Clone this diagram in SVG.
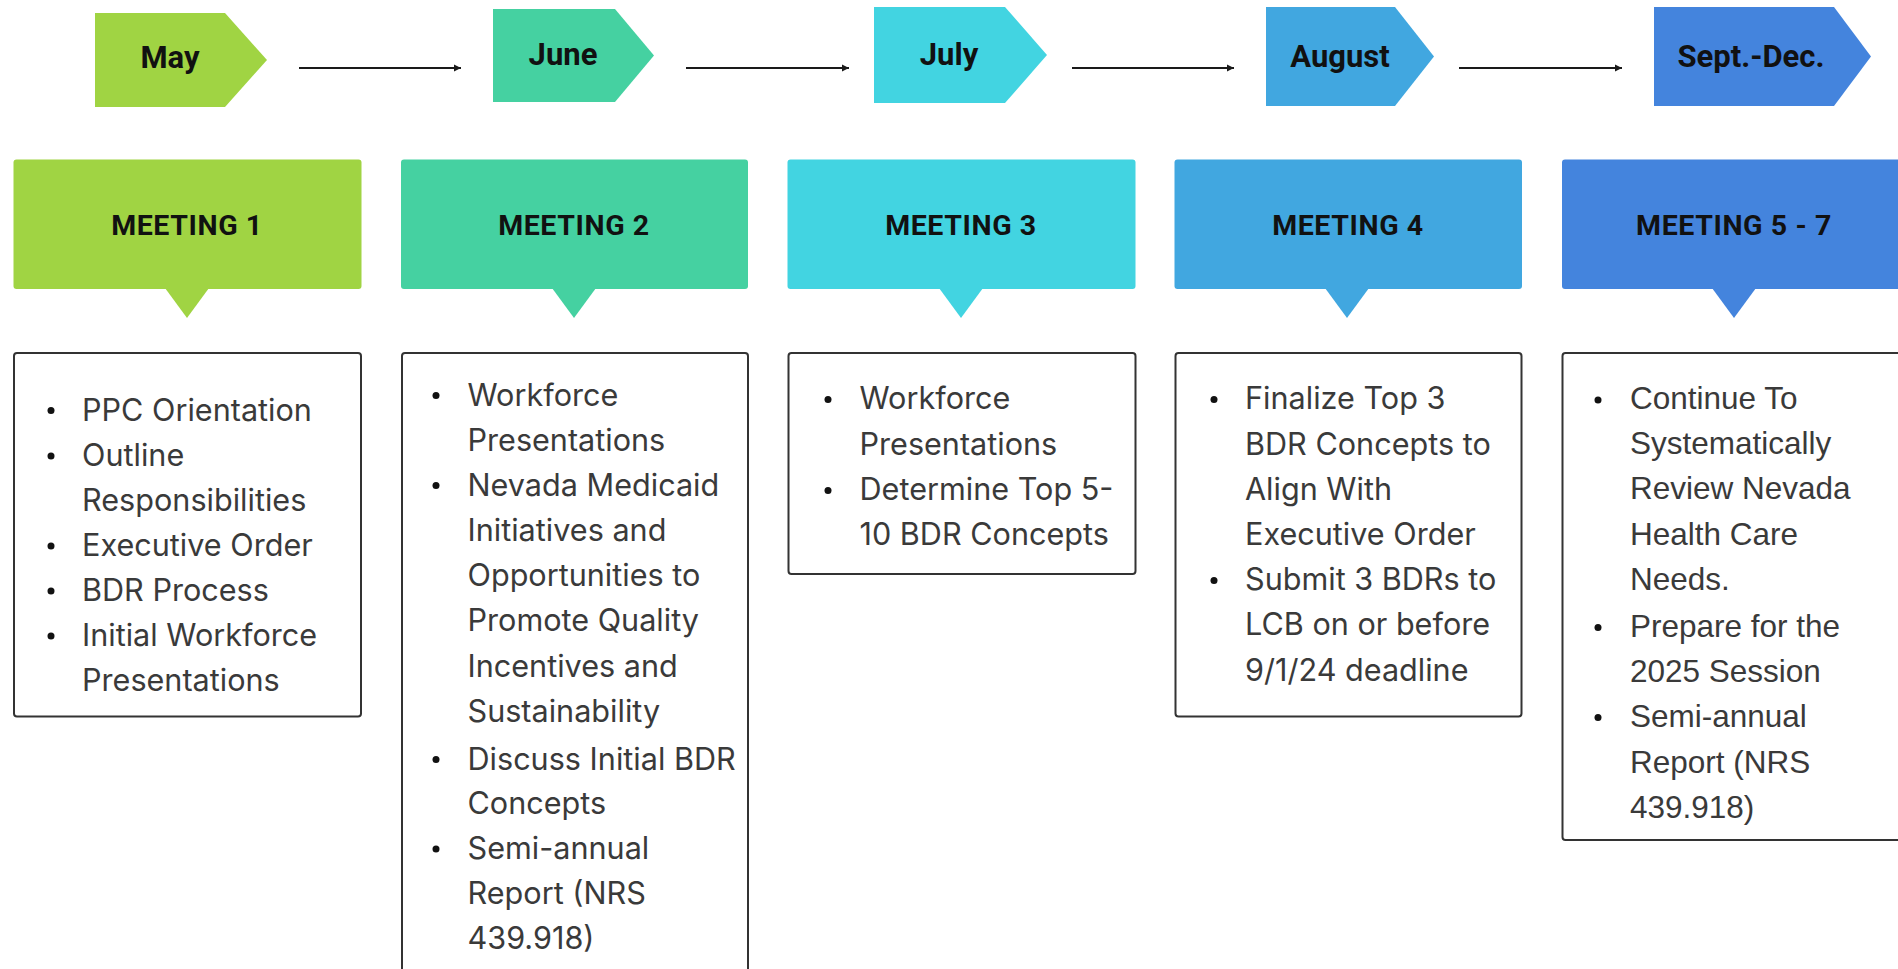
<svg xmlns="http://www.w3.org/2000/svg" width="1898" height="969" viewBox="0 0 1898 969">
<defs>
<marker id="ah" markerUnits="userSpaceOnUse" markerWidth="8" markerHeight="8" refX="7" refY="4" orient="auto">
<path d="M0,0.5 L7,4 L0,7.5 Z" fill="#1a1a1a"/>
</marker>
</defs>
<style>
.mon{font-family:Roboto,"Liberation Sans",sans-serif;font-weight:700;font-size:31px;fill:#111;text-anchor:middle}
.mt{font-family:Roboto,"Liberation Sans",sans-serif;font-weight:700;font-size:28.5px;letter-spacing:0.6px;fill:#111;text-anchor:middle}
.box{fill:#fff;stroke:#333;stroke-width:2}
.bt{font-family:Inter,"Liberation Sans",sans-serif;font-size:30.6px;fill:#3a3a3a}
.bt5{font-family:"Liberation Sans",Arial,sans-serif;font-size:31.5px;fill:#3a3a3a}
.dot{fill:#111}
.c1{fill:#A0D443}.c2{fill:#45D1A1}.c3{fill:#42D4E1}.c4{fill:#41A7E0}.c5{fill:#4484DD}
.conn{stroke:#1a1a1a;stroke-width:2;fill:none;marker-end:url(#ah)}
</style>
<rect width="1898" height="969" fill="#fff"/>

<g id="month-may"><path class="c1" d="M95,13 H225 L267,60 L225,107 H95 Z"/><text class="mon" x="170" y="68">May</text></g>
<g id="month-june"><path class="c2" d="M493,9 H615 L654,55.5 L615,102 H493 Z"/><text class="mon" x="563" y="64.5">June</text></g>
<g id="month-july"><path class="c3" d="M874,7 H1005 L1047,55 L1005,103 H874 Z"/><text class="mon" x="949" y="65">July</text></g>
<g id="month-august"><path class="c4" d="M1266,7 H1395 L1434,56.5 L1395,106 H1266 Z"/><text class="mon" x="1340" y="66.5">August</text></g>
<g id="month-sept-dec"><path class="c5" d="M1654,7 H1834 L1871,56.5 L1834,106 H1654 Z"/><text class="mon" x="1751" y="67">Sept.-Dec.</text></g>

<g id="connectors">
<line class="conn" x1="299" y1="68" x2="461" y2="68"/>
<line class="conn" x1="686" y1="68" x2="849" y2="68"/>
<line class="conn" x1="1072" y1="68" x2="1234" y2="68"/>
<line class="conn" x1="1459" y1="68" x2="1622" y2="68"/>
</g>

<g id="meeting-1"><rect class="c1" x="13.5" y="159.5" width="348" height="129.5" rx="3"/><path class="c1" d="M165,288 L209,288 L187,318 Z"/><text class="mt" x="187" y="235">MEETING 1</text></g>
<g id="meeting-2"><rect class="c2" x="401" y="159.5" width="347" height="129.5" rx="3"/><path class="c2" d="M552,288 L596,288 L574,318 Z"/><text class="mt" x="574" y="235">MEETING 2</text></g>
<g id="meeting-3"><rect class="c3" x="787.5" y="159.5" width="348" height="129.5" rx="3"/><path class="c3" d="M939,288 L983,288 L961,318 Z"/><text class="mt" x="961" y="235">MEETING 3</text></g>
<g id="meeting-4"><rect class="c4" x="1174.5" y="159.5" width="347.5" height="129.5" rx="3"/><path class="c4" d="M1325,288 L1369,288 L1347,318 Z"/><text class="mt" x="1348" y="235">MEETING 4</text></g>
<g id="meeting-5-7"><rect class="c5" x="1562" y="159.5" width="360" height="129.5" rx="3"/><path class="c5" d="M1712,288 L1756,288 L1734,318 Z"/><text class="mt" x="1734" y="235">MEETING 5 - 7</text></g>

<g id="details-1">
<rect class="box" x="14" y="353" width="347" height="363.5" rx="3"/>
<circle class="dot" cx="51" cy="410.5" r="3.5"/>
<circle class="dot" cx="51" cy="456" r="3.5"/>
<circle class="dot" cx="51" cy="546" r="3.5"/>
<circle class="dot" cx="51" cy="591" r="3.5"/>
<circle class="dot" cx="51" cy="636" r="3.5"/>
<text class="bt" x="82" y="420.5">PPC Orientation</text>
<text class="bt" x="82" y="465.7">Outline</text>
<text class="bt" x="82" y="510.7">Responsibilities</text>
<text class="bt" x="82" y="555.7">Executive Order</text>
<text class="bt" x="82" y="601">BDR Process</text>
<text class="bt" x="82" y="646">Initial Workforce</text>
<text class="bt" x="82" y="691.4">Presentations</text>
</g>

<g id="details-2">
<rect class="box" x="402" y="353" width="346" height="640" rx="3"/>
<circle class="dot" cx="436" cy="395.5" r="3.5"/>
<circle class="dot" cx="436" cy="485.5" r="3.5"/>
<circle class="dot" cx="436" cy="759.5" r="3.5"/>
<circle class="dot" cx="436" cy="849" r="3.5"/>
<text class="bt" x="467.5" y="405.5">Workforce</text>
<text class="bt" x="467.5" y="450.5">Presentations</text>
<text class="bt" x="467.5" y="495.5">Nevada Medicaid</text>
<text class="bt" x="467.5" y="540.8">Initiatives and</text>
<text class="bt" x="467.5" y="586">Opportunities to</text>
<text class="bt" x="467.5" y="631">Promote Quality</text>
<text class="bt" x="467.5" y="676.5">Incentives and</text>
<text class="bt" x="467.5" y="721.5">Sustainability</text>
<text class="bt" x="467.5" y="769.5">Discuss Initial BDR</text>
<text class="bt" x="467.5" y="814">Concepts</text>
<text class="bt" x="467.5" y="859">Semi-annual</text>
<text class="bt" x="467.5" y="904">Report (NRS</text>
<text class="bt" x="467.5" y="949">439.918)</text>
</g>

<g id="details-3">
<rect class="box" x="788.5" y="353" width="347" height="221" rx="3"/>
<circle class="dot" cx="828" cy="399.5" r="3.5"/>
<circle class="dot" cx="828" cy="490.5" r="3.5"/>
<text class="bt" x="859.5" y="409">Workforce</text>
<text class="bt" x="859.5" y="455">Presentations</text>
<text class="bt" x="859.5" y="500">Determine Top 5-</text>
<text class="bt" x="859.5" y="545">10 BDR Concepts</text>
</g>

<g id="details-4">
<rect class="box" x="1175.5" y="353" width="346" height="363.5" rx="3"/>
<circle class="dot" cx="1214" cy="399.5" r="3.5"/>
<circle class="dot" cx="1214" cy="580.5" r="3.5"/>
<text class="bt" x="1245" y="409">Finalize Top 3</text>
<text class="bt" x="1245" y="454.5">BDR Concepts to</text>
<text class="bt" x="1245" y="499.5">Align With</text>
<text class="bt" x="1245" y="545">Executive Order</text>
<text class="bt" x="1245" y="590">Submit 3 BDRs to</text>
<text class="bt" x="1245" y="635">LCB on or before</text>
<text class="bt" x="1245" y="680.5">9/1/24 deadline</text>
</g>

<g id="details-5-7">
<rect class="box" x="1562.5" y="353" width="360" height="487" rx="3"/>
<circle class="dot" cx="1598" cy="400" r="3.5"/>
<circle class="dot" cx="1598" cy="627.5" r="3.5"/>
<circle class="dot" cx="1598" cy="717.5" r="3.5"/>
<text class="bt5" x="1630" y="408.5">Continue To</text>
<text class="bt5" x="1630" y="453.7">Systematically</text>
<text class="bt5" x="1630" y="498.7">Review Nevada</text>
<text class="bt5" x="1630" y="544.5">Health Care</text>
<text class="bt5" x="1630" y="589.8">Needs.</text>
<text class="bt5" x="1630" y="636.5">Prepare for the</text>
<text class="bt5" x="1630" y="681.5">2025 Session</text>
<text class="bt5" x="1630" y="727">Semi-annual</text>
<text class="bt5" x="1630" y="772.5">Report (NRS</text>
<text class="bt5" x="1630" y="818">439.918)</text>
</g>
</svg>
